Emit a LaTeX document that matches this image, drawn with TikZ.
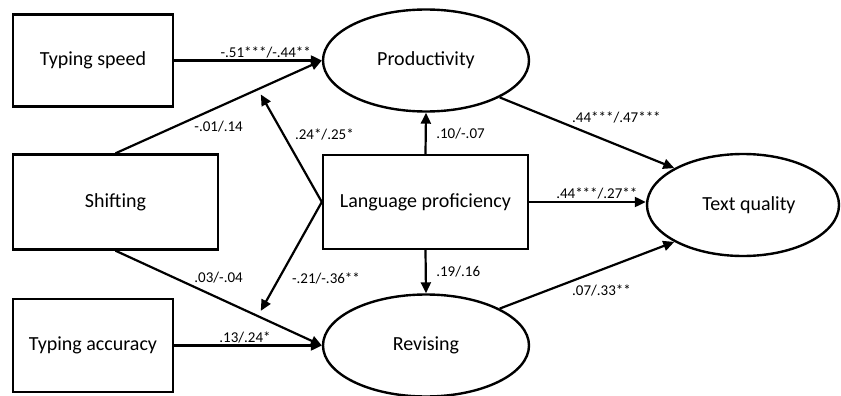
\documentclass[tikz,border=0pt]{standalone}
\usepackage{fontspec}
\setmainfont{Carlito}
\usetikzlibrary{shapes.geometric, arrows.meta, positioning, calc}

\begin{document}
\begin{tikzpicture}[
    x=1pt, y=-1pt,
    block/.style={rectangle, draw=black, minimum width=160pt, minimum height=92pt, font=\fontsize{20}{24}\selectfont, line width=2.4pt},
    wideblock/.style={block, minimum width=205pt, minimum height=95pt},
    latent/.style={ellipse, draw=black, minimum width=206pt, minimum height=102pt, inner sep=0pt, font=\fontsize{20}{24}\selectfont, line width=2.4pt},
    arrow/.style={line width=2.2pt, -{Triangle[length=11pt, width=10pt]}},
    coef/.style={font=\fontsize{15}{17}\selectfont, inner sep=1.5pt}
]
    \useasboundingbox (0,0) rectangle (841,396);

    % Nodes placement
    \node (speed) [block] at (93,60.5) {Typing speed};
    \node (shift) [wideblock] at (115.5,202) {Shifting};
    \node (accur) [block, minimum height=93pt] at (93,345.5) {Typing accuracy};
    \node (lang) [wideblock, minimum height=94pt] at (425.5,202) {Language proficiency};
    \node (prod) [latent] at (426,60.5) {Productivity};
    \node (revis) [latent] at (426,345.5) {Revising};
    \node (textq) [latent, minimum width=192pt] at (743,205) {\hspace*{12pt}Text quality};

    % Predictor paths
    \draw [arrow] (speed.east) -- (prod.west) node[coef, pos=0.62, above] {-.51***/-.44**};
    \draw [arrow] (shift.north) -- (prod.west) node[coef, pos=0.37, below right] {-.01/.14};
    \draw [arrow] (shift.south) -- (revis.west) node[coef, pos=0.37, above right] {.03/-.04};
    \draw [arrow] (accur.east) -- (revis.west) node[coef, pos=0.48, above] {.13/.24*};

    % Moderation arrows onto the shifting paths
    \path (shift.north) -- (prod.west) coordinate[pos=0.69] (upmod);
    \path (shift.south) -- (revis.west) coordinate[pos=0.69] (downmod);
    \draw [arrow, shorten >=6pt] (lang.west) -- (upmod) node[coef, pos=0.6, right=9pt] {.24*/.25*};
    \draw [arrow, shorten >=6pt] (lang.west) -- (downmod) node[coef, pos=0.6, below right=0pt and 6pt] {-.21/-.36**};

    % Language proficiency paths
    \draw [arrow] (lang.north) -- (prod.south) node[coef, midway, right=8pt] {.10/-.07};
    \draw [arrow] (lang.south) -- (revis.north) node[coef, midway, right=8pt] {.19/.16};
    \draw [arrow] (lang.east) -- (lang.east -| textq.west) node[coef, pos=0.58, above] {.44***/.27**};

    % Paths to text quality
    \draw [arrow] (prod.south east) -- (textq.north west) node[coef, pos=0.4, above right] {.44***/.47***};
    \draw [arrow] (revis.north east) -- (textq.south west) node[coef, pos=0.4, below right] {.07/.33**};

\end{tikzpicture}
\end{document}
